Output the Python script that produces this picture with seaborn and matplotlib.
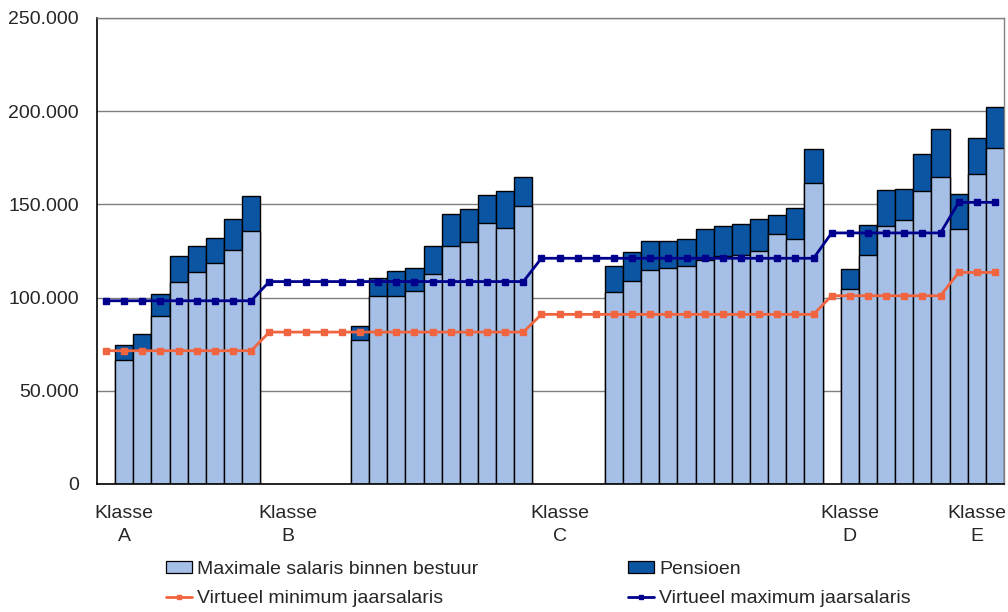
import matplotlib
matplotlib.use("Agg")
import matplotlib.pyplot as plt
import matplotlib.ticker as mticker
import seaborn as sns
import pandas as pd
import numpy as np

# ---------------- data ----------------
n_slots = 50
bar_slots = [1, 2, 3, 4, 5, 6, 7, 8,
             14, 15, 16, 17, 18, 19, 20, 21, 22, 23,
             28, 29, 30, 31, 32, 33, 34, 35, 36, 37, 38, 39,
             41, 42, 43, 44, 45, 46, 47, 48, 49]
salaris = [66300, 71700, 90100, 108400, 114000, 118300, 125600, 135600,
           77200, 100700, 101100, 103500, 112500, 127700, 129700, 139900, 137100, 149100,
           102800, 109100, 114700, 115900, 117000, 120000, 122200, 122900, 124900, 134200, 131500, 161300,
           104600, 122900, 138200, 141500, 157100, 164500, 136600, 166100, 180300]
pensioen = [8400, 8700, 12000, 14000, 13900, 13800, 16700, 18700,
            7500, 10000, 13200, 12400, 15400, 17100, 17800, 15300, 19900, 15400,
            13900, 15400, 15600, 14700, 14500, 16700, 16300, 16500, 17000, 9900, 16700, 18400,
            11000, 16000, 19300, 16900, 19900, 26100, 18800, 19400, 21800]
virt_min = [71500, 71500, 71500, 71500, 71500, 71500, 71500, 71500, 71500,
            81500, 81500, 81500, 81500, 81500, 81500, 81500, 81500, 81500, 81500,
            81500, 81500, 81500, 81500, 81500,
            91000, 91000, 91000, 91000, 91000, 91000, 91000, 91000, 91000, 91000,
            91000, 91000, 91000, 91000, 91000, 91000,
            101000, 101000, 101000, 101000, 101000, 101000, 101000,
            113500, 113500, 113500]
virt_max = [98300, 98300, 98300, 98300, 98300, 98300, 98300, 98300, 98300,
            108600, 108600, 108600, 108600, 108600, 108600, 108600, 108600, 108600, 108600,
            108600, 108600, 108600, 108600, 108600,
            121100, 121100, 121100, 121100, 121100, 121100, 121100, 121100, 121100, 121100,
            121100, 121100, 121100, 121100, 121100, 121100,
            134700, 134700, 134700, 134700, 134700, 134700, 134700,
            151100, 151100, 151100]
class_labels = ["Klasse\nA", "Klasse\nB", "Klasse\nC", "Klasse\nD", "Klasse\nE"]
class_label_slots = [1, 10, 25, 41, 48]
y_ticks = [0, 50000, 100000, 150000, 200000, 250000]

# ---------------- style ----------------
sns.set_style("white")
plt.rcParams["font.family"] = ["Liberation Sans", "DejaVu Sans"]
plt.rcParams["font.size"] = 14

c_light = "#A6BFE6"
c_dark = "#0B55A3"
c_orange = "#F0653F"
c_navy = "#00008C"
c_grid = "#808080"

fig = plt.figure(figsize=(10.08, 6.12), dpi=100)
ax = fig.add_axes([97 / 1008, 1 - 484 / 612, (1004 - 97) / 1008, (484 - 18) / 612])

df = pd.DataFrame({"slot": bar_slots, "salaris": salaris, "pensioen": pensioen})
df["totaal"] = df["salaris"] + df["pensioen"]
order = list(range(n_slots))

sns.barplot(data=df, x="slot", y="totaal", order=order, color=c_dark, saturation=1,
            width=1.0, edgecolor="black", linewidth=1.0, errorbar=None, ax=ax, zorder=2)
sns.barplot(data=df, x="slot", y="salaris", order=order, color=c_light, saturation=1,
            width=1.0, edgecolor="black", linewidth=1.0, errorbar=None, ax=ax, zorder=2)

lines_df = pd.DataFrame({"slot": np.arange(n_slots), "min": virt_min, "max": virt_max})
ax.plot(lines_df["slot"], lines_df["min"], color=c_orange, lw=2.0, marker="s",
        markersize=4, zorder=4)
ax.plot(lines_df["slot"], lines_df["max"], color=c_navy, lw=2.0, marker="s",
        markersize=4, zorder=4)

# axes
ax.set_xlim(-0.5, n_slots - 0.5)
ax.set_ylim(0, 250000)
ax.set_yticks(y_ticks)
ax.yaxis.set_major_formatter(mticker.FuncFormatter(lambda v, p: f"{int(v):,}".replace(",", ".")))
ax.grid(axis="y", color=c_grid, lw=1.0, zorder=0)
ax.set_axisbelow(True)
ax.tick_params(axis="y", direction="out", length=5, width=1, color=c_grid, pad=8, labelsize=14)

ax.set_xticks(class_label_slots)
ax.set_xticklabels(class_labels, linespacing=1.5)
ax.set_xticks(np.arange(-0.5, n_slots, 1.0), minor=True)
ax.tick_params(axis="x", which="major", length=0, pad=15, labelsize=14)
ax.tick_params(axis="x", which="minor", direction="out", length=5, width=1, color="#555555")
ax.set_xlabel("")
ax.set_ylabel("")

for s in ["left", "bottom"]:
    ax.spines[s].set_color("black")
    ax.spines[s].set_linewidth(1.2)
for s in ["top", "right"]:
    ax.spines[s].set_visible(True)
    ax.spines[s].set_color(c_grid)
    ax.spines[s].set_linewidth(1.0)

from matplotlib.patches import Patch
from matplotlib.lines import Line2D
handles = [Patch(facecolor=c_light, edgecolor="black", lw=0.9),
           Line2D([], [], color=c_orange, lw=2, marker="s", markersize=3),
           Patch(facecolor=c_dark, edgecolor="black", lw=0.9),
           Line2D([], [], color=c_navy, lw=2, marker="s", markersize=3)]
labels = ["Maximale salaris binnen bestuur", "Virtueel minimum jaarsalaris",
          "Pensioen", "Virtueel maximum jaarsalaris"]
fig.legend(handles, labels, ncol=2, loc="upper left", bbox_to_anchor=(166 / 1008, 1 - 561 / 612),
           frameon=False, fontsize=14, handlelength=1.35, handleheight=0.55, handletextpad=0.25,
           columnspacing=7.7, labelspacing=0.62, borderpad=0, borderaxespad=0)

fig.savefig("out.png", dpi=100)
